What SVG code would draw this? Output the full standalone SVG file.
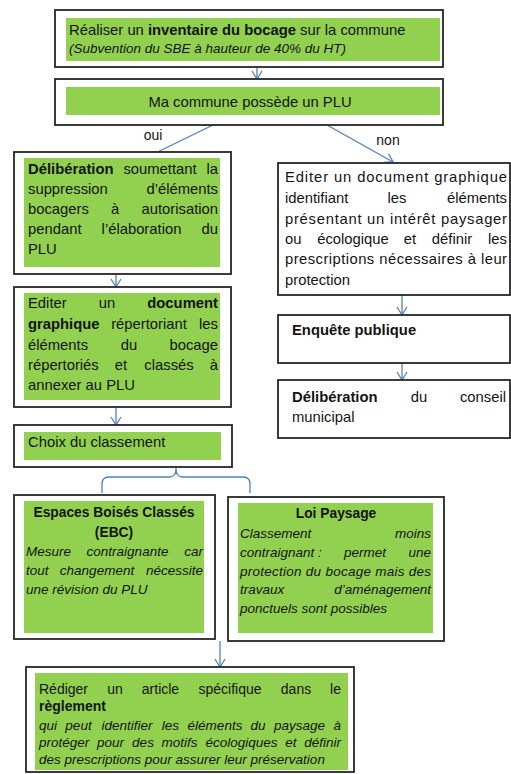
<svg xmlns="http://www.w3.org/2000/svg" width="511" height="774" viewBox="0 0 511 774">
<style>
.box{fill:#fff;stroke:#262626;stroke-width:1.8}
.g{fill:#92D050}
text{font-family:"Liberation Sans",Arial,sans-serif;font-size:14.8px;fill:#141414}
.b{font-weight:bold}
.i{font-style:italic;font-size:13.5px}
.s{font-size:14px}
.ti{font-size:13.8px;font-weight:bold}
.m{text-anchor:middle}
.e{text-anchor:end}
.c{stroke:#4F81BD;stroke-width:1.3;fill:none}
.lbl{font-size:14px}
</style>
<defs>
<marker id="ah" viewBox="0 0 12 12" refX="11" refY="6" markerWidth="12" markerHeight="12" markerUnits="userSpaceOnUse" orient="auto">
<path d="M3,1 L11,6 L3,11" fill="none" stroke="#4F81BD" stroke-width="1.3"/>
</marker>
</defs>

<g id="connectors">
<path class="c" d="M257,67 L257,79" marker-end="url(#ah)"/>
<path class="c" d="M213,125 L141,160" marker-end="url(#ah)"/>
<path class="c" d="M327,125 L393,162" marker-end="url(#ah)"/>
<path class="c" d="M116,274 L116,287" marker-end="url(#ah)"/>
<path class="c" d="M116,407 L116,425" marker-end="url(#ah)"/>
<path class="c" d="M402,295 L402,315" marker-end="url(#ah)"/>
<path class="c" d="M402,363 L402,380" marker-end="url(#ah)"/>
<path class="c" d="M102,493 L102,484 Q102,477 109,477 L169,477 Q176,477 176,469 Q176,477 183,477 L243,477 Q250,477 250,484 L250,493 M176,460 L176,469"/>
<path class="c" d="M220,641 L220,667" marker-end="url(#ah)"/>
<text class="lbl m" x="153" y="140">oui</text>
<text class="lbl m" x="388" y="145">non</text>
</g>

<g id="inventaire">
<rect class="box" x="55" y="10" width="388" height="57"/>
<rect class="g" x="66" y="18" width="374" height="43"/>
<text x="69" y="35">Réaliser un <tspan class="b">inventaire du bocage</tspan> sur la commune</text>
<text class="i" x="69" y="53">(Subvention du SBE à hauteur de 40% du HT)</text>
</g>

<g id="plu">
<rect class="box" x="55" y="79" width="388" height="46"/>
<rect class="g" x="66" y="87" width="374" height="28"/>
<text class="m" x="250" y="107">Ma commune possède un PLU</text>
</g>

<g id="deliberation-plu">
<rect class="box" x="14" y="152" width="217" height="122"/>
<rect class="g" x="24" y="158" width="196" height="109"/>
<text x="28" y="174"><tspan class="b">Délibération</tspan><tspan class="m" x="160">soumettant</tspan><tspan class="e" x="218">la</tspan></text>
<text x="28" y="194">suppression<tspan class="e" x="218">d’éléments</tspan></text>
<text x="28" y="214">bocagers<tspan class="m" x="115">à</tspan><tspan class="e" x="218">autorisation</tspan></text>
<text x="28" y="234">pendant<tspan class="m" x="141.5">l’élaboration</tspan><tspan class="e" x="218">du</tspan></text>
<text x="28" y="254">PLU</text>
</g>

<g id="document-graphique">
<rect class="box" x="14" y="287" width="217" height="120"/>
<rect class="g" x="24" y="293" width="196" height="107"/>
<text x="28" y="308">Editer<tspan class="m" x="107">un</tspan><tspan class="e b" x="218">document</tspan></text>
<text x="28" y="329"><tspan class="b">graphique</tspan><tspan class="m" x="149">répertoriant</tspan><tspan class="e" x="218">les</tspan></text>
<text x="28" y="350">éléments<tspan class="m" x="129">du</tspan><tspan class="e" x="218">bocage</tspan></text>
<text x="28" y="370">répertoriés<tspan class="m" x="121">et</tspan><tspan class="m" x="169">classés</tspan><tspan class="e" x="218">à</tspan></text>
<text x="28" y="390">annexer au PLU</text>
</g>

<g id="choix">
<rect class="box" x="14" y="425" width="218" height="42"/>
<rect class="g" x="24" y="432" width="197" height="28"/>
<text x="28" y="447">Choix du classement</text>
</g>

<g id="ebc">
<rect class="box" x="14" y="495" width="201" height="144"/>
<rect class="g" x="24" y="501" width="180" height="132"/>
<text class="ti m" x="114" y="517">Espaces Boisés Classés</text>
<text class="ti m" x="114" y="537">(EBC)</text>
<text class="i" x="26" y="556">Mesure<tspan class="m" x="127.5">contraignante</tspan><tspan class="e" x="203">car</tspan></text>
<text class="i" x="26" y="575">tout<tspan class="m" x="97">changement</tspan><tspan class="e" x="203">nécessite</tspan></text>
<text class="i" x="26" y="594">une révision du PLU</text>
</g>

<g id="loi-paysage">
<rect class="box" x="228" y="497" width="216" height="144"/>
<rect class="g" x="238" y="503" width="195" height="130"/>
<text class="ti m" x="336" y="518">Loi Paysage</text>
<text class="i" x="240" y="538">Classement<tspan class="e" x="431">moins</tspan></text>
<text class="i" x="240" y="557">contraignant :<tspan class="m" x="365">permet</tspan><tspan class="e" x="431">une</tspan></text>
<text class="i" x="240" y="576" textLength="191" lengthAdjust="spacing">protection du bocage mais des</text>
<text class="i" x="240" y="594">travaux<tspan class="e" x="431">d’aménagement</tspan></text>
<text class="i" x="240" y="613">ponctuels sont possibles</text>
</g>

<g id="reglement">
<rect class="box" x="26" y="667" width="328" height="105"/>
<rect class="g" x="35" y="673" width="313" height="97"/>
<text class="s" x="39" y="694">Rédiger<tspan class="m" x="115">un</tspan><tspan class="m" x="160.5">article</tspan><tspan class="m" x="230">spécifique</tspan><tspan class="m" x="296">dans</tspan><tspan class="e" x="341">le</tspan></text>
<text class="s b" x="39" y="711">règlement</text>
<text class="i" x="39" y="730">qui<tspan class="m" x="78.5">peut</tspan><tspan class="m" x="127">identifier</tspan><tspan class="m" x="170.5">les</tspan><tspan class="m" x="215">éléments</tspan><tspan class="m" x="258">du</tspan><tspan class="m" x="299.5">paysage</tspan><tspan class="e" x="341">à</tspan></text>
<text class="i" x="39" y="747">protéger<tspan class="m" x="110.5">pour</tspan><tspan class="m" x="143">des</tspan><tspan class="m" x="179.5">motifs</tspan><tspan class="m" x="241.5">écologiques</tspan><tspan class="m" x="291">et</tspan><tspan class="e" x="341">définir</tspan></text>
<text class="i" x="39" y="764">des prescriptions pour assurer leur préservation</text>
</g>

<g id="document-non">
<rect class="box" x="278" y="163" width="232" height="132"/>
<text x="285" y="182" textLength="222" lengthAdjust="spacing">Editer un document graphique</text>
<text x="285" y="203">identifiant<tspan class="m" x="397">les</tspan><tspan class="e" x="507">éléments</tspan></text>
<text x="285" y="224" textLength="222" lengthAdjust="spacing">présentant un intérêt paysager</text>
<text x="285" y="244">ou<tspan class="m" x="353">écologique</tspan><tspan class="m" x="410">et</tspan><tspan class="m" x="452">définir</tspan><tspan class="e" x="507">les</tspan></text>
<text x="285" y="264" textLength="222" lengthAdjust="spacing">prescriptions nécessaires à leur</text>
<text x="285" y="285">protection</text>
</g>

<g id="enquete">
<rect class="box" x="278" y="315" width="232" height="48"/>
<text class="b" x="292" y="335">Enquête publique</text>
</g>

<g id="deliberation-conseil">
<rect class="box" x="278" y="380" width="232" height="58"/>
<text x="292" y="402"><tspan class="b">Délibération</tspan><tspan class="m" x="419">du</tspan><tspan class="e" x="506">conseil</tspan></text>
<text x="292" y="422">municipal</text>
</g>
</svg>
